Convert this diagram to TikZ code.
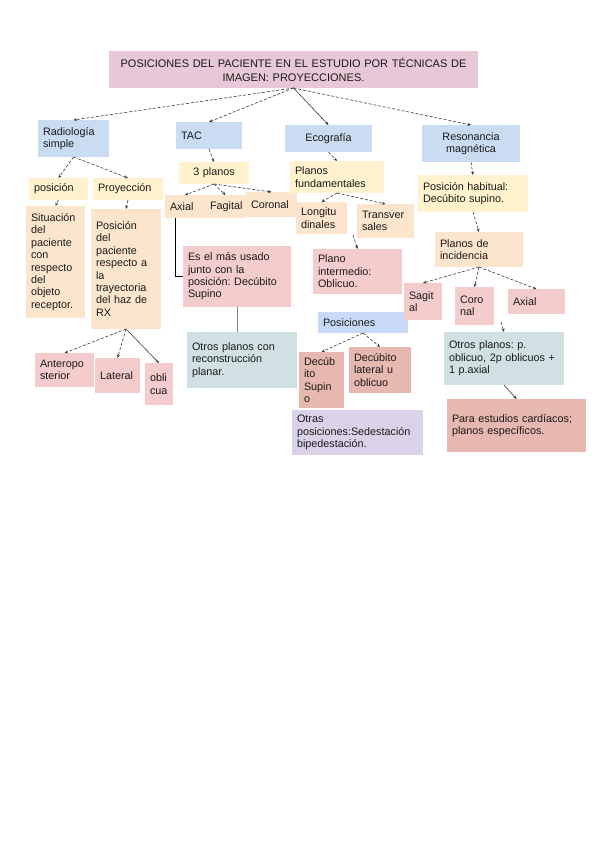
\documentclass[tikz,border=0pt]{standalone}
\usepackage{fontspec}
\setmainfont{Liberation Sans}
\usetikzlibrary{arrows.meta, positioning}
\definecolor{tinta}{HTML}{1A1A1A}
\definecolor{linea}{HTML}{3A3A3A}
\definecolor{rosatitulo}{HTML}{E8C8D6}
\definecolor{azul}{HTML}{CADCF2}
\definecolor{azulclaro}{HTML}{C9DAF8}
\definecolor{amarillo}{HTML}{FFF2CC}
\definecolor{melocoton}{HTML}{FCE5CD}
\definecolor{rosa}{HTML}{F4CCCC}
\definecolor{salmon}{HTML}{E6B8AF}
\definecolor{verdeazul}{HTML}{D0E0E3}
\definecolor{lila}{HTML}{D9D2E9}
\hyphenpenalty=10000
\exhyphenpenalty=10000
\frenchspacing

\begin{document}
\begin{tikzpicture}[
    x=1pt, y=-1pt,
    >={Stealth[length=3.5pt, width=3pt]},
    every node/.style={text=tinta, font=\fontsize{10.8}{12.4}\selectfont},
    caja/.style={anchor=north west, inner xsep=5pt, inner ysep=2pt, outer sep=0pt, align=left},
    flecha/.style={->, draw=linea, line width=0.6pt, dash pattern=on 3pt off 1.8pt},
  ]

  % Background
  \fill[white] (0,0) rectangle (599,848);
  \useasboundingbox (0,0) rectangle (599,848);

  % === Title ===
  \node[caja, fill=rosatitulo, text width=359pt, minimum height=37pt, align=center,
    font=\fontsize{11}{14}\selectfont] (titulo) at (109,51)
    {POSICIONES DEL PACIENTE EN EL ESTUDIO POR TÉCNICAS DE\\IMAGEN: PROYECCIONES.};

  % === Techniques ===
  \node[caja, fill=azul, text width=61pt, minimum height=37pt] (radiologia) at (38,120) {Radiología\\simple};
  \node[caja, fill=azul, text width=56pt, minimum height=27pt] (tac) at (176,122) {TAC};
  \node[caja, fill=azul, text width=77pt, minimum height=27pt, align=center] (ecografia) at (285,125) {Ecografía};
  \node[caja, fill=azul, text width=88pt, minimum height=37pt, align=center] (resonancia) at (422,125) {Resonancia\\magnética};

  % === Radiologia simple ===
  \node[caja, fill=amarillo, text width=49pt, minimum height=22pt] (posicion) at (29,178) {posición};
  \node[caja, fill=amarillo, text width=60pt, minimum height=22pt] (proyeccion) at (93,178) {Proyección};
  \node[caja, fill=melocoton, text width=49pt, minimum height=112pt] (situacion) at (26,206)
    {Situación\\del\\paciente\\con\\respecto\\del\\objeto\\receptor.};
  \node[caja, fill=melocoton, text width=60pt, minimum height=120pt] (definicion) at (91,209)
    {Posición\\del\\paciente\\respecto a\\la\\trayectoria\\del haz de\\RX};
  \node[caja, fill=rosa, text width=49pt, minimum height=34pt] (antero) at (35,353) {Anteropo\\sterior};
  \node[caja, fill=rosa, text width=35pt, minimum height=35pt] (lateral) at (95,358) {Lateral};
  \node[caja, fill=rosa, text width=18pt, minimum height=42pt] (oblicua) at (145,363) {obli\\cua};

  % === TAC ===
  \node[caja, fill=amarillo, text width=60pt, minimum height=22pt, align=center] (tresplanos) at (179,162) {3 planos};
  \node[caja, fill=melocoton, text width=30pt, minimum height=23pt] (axial) at (165,195) {Axial};
  \node[caja, fill=melocoton, text width=31pt, minimum height=23pt] (fagital) at (205,195) {Fagital};
  \node[caja, fill=melocoton, text width=41pt, minimum height=25pt] (coronal) at (246,192) {Coronal};
  \node[caja, fill=rosa, text width=98pt, minimum height=61pt] (usado) at (183,246)
    {Es el más usado\\junto con la\\posición: Decúbito\\Supino};
  \node[caja, fill=verdeazul, text width=100pt, minimum height=56pt] (reconstruccion) at (187,332)
    {Otros planos con\\reconstrucción\\planar.};

  % === Ecografia ===
  \node[caja, fill=amarillo, text width=84pt, minimum height=32pt] (fundamentales) at (290,161) {Planos\\fundamentales};
  \node[caja, fill=melocoton, text width=41pt, minimum height=32pt] (longitudinales) at (296,202) {Longitu\\dinales};
  \node[caja, fill=melocoton, text width=47pt, minimum height=34pt] (transversales) at (357,204) {Transver\\sales};
  \node[caja, fill=rosa, text width=79pt, minimum height=45pt] (intermedio) at (313,249) {Plano\\intermedio:\\Oblicuo.};
  \node[caja, fill=azulclaro, text width=80pt, minimum height=21pt] (posiciones) at (318,312) {Posiciones};
  \node[caja, fill=salmon, text width=35pt, minimum height=56pt] (supino) at (299,352) {Decúb\\ito\\Supin\\o};
  \node[caja, fill=salmon, text width=52pt, minimum height=46pt] (lateralob) at (349,347) {Decúbito\\lateral u\\oblicuo};
  \node[caja, fill=lila, text width=121pt, minimum height=45pt] (otras) at (292,410)
    {Otras\\posiciones:Sedestación\\bipedestación.};

  % === Resonancia magnetica ===
  \node[caja, fill=amarillo, text width=100pt, minimum height=37pt] (habitual) at (418,175) {Posición habitual:\\Decúbito supino.};
  \node[caja, fill=melocoton, text width=78pt, minimum height=35pt] (incidencia) at (435,232) {Planos de\\incidencia};
  \node[caja, fill=rosa, text width=28pt, minimum height=37pt] (sagital) at (404,283) {Sagit\\al};
  \node[caja, fill=rosa, text width=29pt, minimum height=38pt] (coronalrm) at (455,287) {Coro\\nal};
  \node[caja, fill=rosa, text width=47pt, minimum height=25pt] (axialrm) at (508,289) {Axial};
  \node[caja, fill=verdeazul, text width=110pt, minimum height=53pt] (otrosplanos) at (444,332)
    {Otros planos: p.\\oblicuo, 2p oblicuos +\\1 p.axial};
  \node[caja, fill=salmon, text width=129pt, minimum height=53pt] (cardiacos) at (447,399)
    {Para estudios cardíacos;\\planos específicos.};

  % free ends
  \coordinate (entre) at (353,235);
  \coordinate (marca) at (501,322);

  % === Connectors ===
  \draw[flecha] (titulo.south) -- (radiologia.north);
  \draw[flecha] (titulo.south) -- (tac.north);
  \draw[flecha, solid] (titulo.south) -- (ecografia.north);
  \draw[flecha] (titulo.south) -- (resonancia.north);

  \draw[flecha] (radiologia.south) -- (posicion.north);
  \draw[flecha] (radiologia.south) -- (proyeccion.north);
  \draw[flecha] (posicion.south) -- (situacion.north);
  \draw[flecha] (proyeccion.south) -- (definicion.north);
  \draw[flecha] (definicion.south) -- (antero.north);
  \draw[flecha] (definicion.south) -- (lateral.north);
  \draw[flecha, solid] (definicion.south) -- (oblicua.north);

  \draw[flecha] (tac.south) -- (tresplanos.north);
  \draw[flecha] (tresplanos.south) -- (axial.north);
  \draw[flecha] (tresplanos.south) -- (fagital.north);
  \draw[flecha] (tresplanos.south) -- (coronal.north);
  \draw[black, line width=0.8pt] ([xshift=-10pt]axial.south) |- (usado.west);
  \draw[gray, line width=0.8pt] (usado.south) -- (usado.south |- reconstruccion.north);

  \draw[flecha] (ecografia.south) -- (fundamentales.north);
  \draw[flecha] (fundamentales.south) -- (longitudinales.north);
  \draw[flecha] (fundamentales.south) -- (transversales.north);
  \draw[flecha] (entre) -- (intermedio.north);
  \draw[flecha] (posiciones.south) -- (supino.north);
  \draw[flecha] (posiciones.south) -- (lateralob.north);

  \draw[flecha] (resonancia.south) -- (habitual.north);
  \draw[flecha] (habitual.south) -- (incidencia.north);
  \draw[flecha] (incidencia.south) -- (sagital.north);
  \draw[flecha] (incidencia.south) -- (coronalrm.north);
  \draw[flecha] (incidencia.south) -- (axialrm.north);
  \draw[flecha] (marca) -- (otrosplanos.north);
  \draw[flecha, solid] (otrosplanos.south) -- (cardiacos.north);

\end{tikzpicture}
\end{document}
